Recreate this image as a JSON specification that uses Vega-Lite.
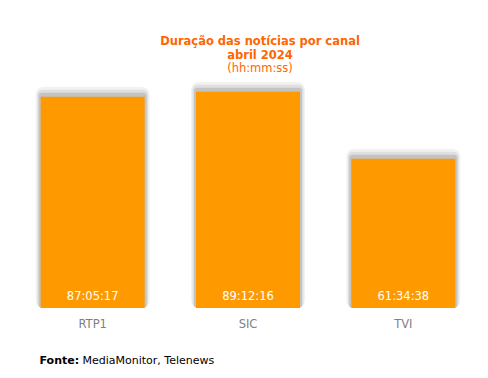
{
  "$schema": "https://vega.github.io/schema/vega-lite/v6.json",
  "width": 466,
  "height": 218,
  "autosize": "none",
  "padding": {"left": 15, "top": 90, "right": 7, "bottom": 70},
  "background": "white",
  "config": {"view": {"stroke": null}, "font": "DejaVu Sans"},
  "title": {
    "text": ["Duração das notícias por canal", "abril 2024"],
    "subtitle": "(hh:mm:ss)",
    "color": "#FF6600",
    "subtitleColor": "#FF6600",
    "font": "DejaVu Sans",
    "subtitleFont": "DejaVu Sans",
    "fontSize": 11.5,
    "fontWeight": "bold",
    "subtitleFontSize": 11.5,
    "subtitleFontWeight": "normal",
    "anchor": "middle",
    "lineHeight": 14,
    "subtitleLineHeight": 14,
    "subtitlePadding": 2,
    "offset": 7,
    "dx": 12
  },
  "data": {
    "values": [
      {"canal": "RTP1", "horas": 87.0881, "rotulo": "87:05:17"},
      {"canal": "SIC", "horas": 89.2044, "rotulo": "89:12:16"},
      {"canal": "TVI", "horas": 61.5772, "rotulo": "61:34:38"}
    ]
  },
  "encoding": {
    "x": {
      "field": "canal",
      "type": "nominal",
      "sort": null,
      "scale": {"paddingInner": 0.33, "paddingOuter": 0.165},
      "axis": {
        "labelAngle": 0,
        "labelColor": "#7F7F7F",
        "labelFontSize": 11.5,
        "labelPadding": 10,
        "ticks": false,
        "domain": false,
        "title": "Fonte:",
        "titleFontWeight": "bold",
        "titleFontSize": 11,
        "titleColor": "black",
        "titleX": 24,
        "titleY": 55,
        "titleAlign": "left",
        "titleBaseline": "alphabetic"
      }
    },
    "y": {
      "field": "horas",
      "type": "quantitative",
      "stack": null,
      "scale": {"domain": [0, 89.9], "nice": false},
      "axis": {
        "labels": false,
        "ticks": false,
        "domain": false,
        "grid": false,
        "title": "MediaMonitor, Telenews",
        "titleAngle": 0,
        "titleX": 67,
        "titleY": 273,
        "titleAlign": "left",
        "titleBaseline": "alphabetic",
        "titleFontWeight": "normal",
        "titleFontSize": 11,
        "titleColor": "black"
      }
    },
    "y2": {"datum": 0}
  },
  "layer": [
    {"mark": {"type": "bar", "color": "#000000", "opacity": 0.05, "width": 114, "yOffset": -10, "y2Offset": 0, "cornerRadius": 8}},
    {"mark": {"type": "bar", "color": "#000000", "opacity": 0.08, "width": 111, "yOffset": -7, "y2Offset": 0, "cornerRadius": 5}},
    {"mark": {"type": "bar", "color": "#000000", "opacity": 0.12, "width": 108, "yOffset": -4, "y2Offset": 0, "cornerRadius": 3}},
    {"mark": {"type": "bar", "color": "#FF9900", "width": 104}},
    {
      "mark": {"type": "text", "color": "white", "fontSize": 11.5, "baseline": "alphabetic", "dy": -8},
      "encoding": {
        "y": {"datum": 0},
        "y2": null,
        "text": {"field": "rotulo", "type": "nominal"}
      }
    }
  ]
}
